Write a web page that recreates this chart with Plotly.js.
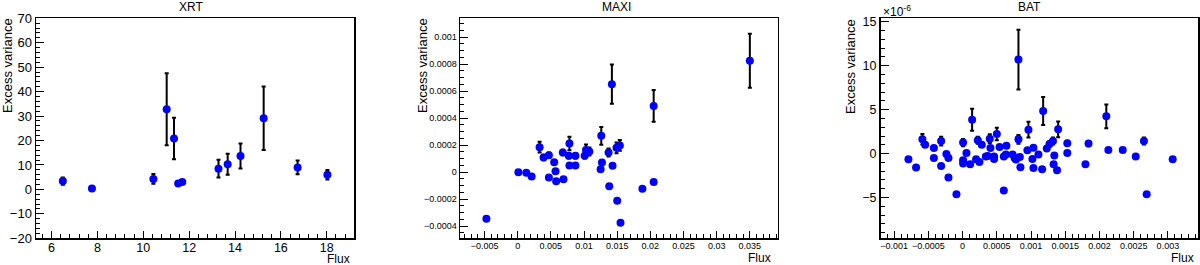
<!DOCTYPE html>
<html>
<head>
<meta charset="utf-8">
<script src="https://cdn.plot.ly/plotly-3.0.1.min.js"></script>
<style>
  html, body { margin: 0; padding: 0; background: #fff; }
  #chart { width: 1200px; height: 265px; }
</style>
</head>
<body>
<div id="chart"></div>
<script>
// XRT panel
const xrtFlux = [6.49, 7.76, 10.44, 11.02, 11.34, 11.52, 11.70, 13.28, 13.68, 14.24, 15.25, 16.73, 18.03];
const xrtVar  = [3.4, 0.4, 4.3, 32.8, 20.8, 2.4, 3.0, 8.5, 10.3, 13.7, 29.1, 9.0, 6.0];
const xrtErr  = [1.5, 0, 2.0, 14.7, 8.5, 0, 0, 3.6, 4.3, 5.1, 13.0, 2.8, 1.9];

// MAXI panel
const maxiFlux = [-0.00472, 0.0001, 0.0013, 0.0021, 0.0033, 0.0039, 0.0047, 0.0047, 0.0055, 0.0057,
                  0.0058, 0.0068, 0.0069, 0.0078, 0.0077, 0.0078, 0.0087, 0.0087, 0.0101, 0.0103,
                  0.0108, 0.0125, 0.0126, 0.0127, 0.0137, 0.0138, 0.0142, 0.0143, 0.0149, 0.0150,
                  0.0154, 0.0155, 0.0188, 0.0205, 0.0205, 0.0350];
const maxiVar  = [-0.000346, 0, -0.000005, -0.000032, 0.000185, 0.000109, 0.000126, -0.00004, 0.000074, 0.000007,
                  -0.000067, 0.000146, -0.000052, 0.000212, 0.000121, 0.00005, 0.000121, 0.00005, 0.000121, 0.000165,
                  0.000153, 0.000022, 0.000269, 0.000072, 0.000146, -0.000104, 0.000652, 0.000047, 0.00018, -0.000212,
                  0.000198, -0.000375, -0.000123, -0.000072, 0.000491, 0.000825];
const maxiErr  = [0, 0, 0, 0, 0.00004, 0.00002, 0.00002, 0, 0, 0,
                  0, 0.00002, 0, 0.00005, 0.00002, 0, 0.00002, 0, 0.00002, 0.00004,
                  0.00003, 0, 0.000065, 0, 0.00003, 0, 0.000145, 0, 0.00004, 0,
                  0.00004, 0, 0, 0, 0.000118, 0.0002];

// BAT panel (variance in units of 1e-6, as on the axis)
const batFlux = [-0.000792, -0.00068, -0.000588, -0.000548, -0.00042, -0.00042, -0.000314, -0.000314, -0.000237, -0.000207,
                 -0.000207, -0.00009, 0.000007, 0.000007, 0.000007, 0.000056, 0.00011, 0.000139, 0.000197, 0.000222,
                 0.000246, 0.00028, 0.00034, 0.000368, 0.000397, 0.000407, 0.00046, 0.00046, 0.0005, 0.00054,
                 0.000602, 0.000602, 0.000632, 0.00064, 0.00073, 0.00076, 0.00078, 0.000816, 0.000816, 0.000836,
                 0.000845, 0.000962, 0.000947, 0.00102, 0.001035, 0.001035, 0.001108, 0.001162, 0.001177, 0.00123,
                 0.00127, 0.00132, 0.00134, 0.00133, 0.00138, 0.001396, 0.00153, 0.00153, 0.001795, 0.00184,
                 0.0021, 0.00213, 0.00234, 0.00253, 0.00265, 0.00269, 0.00307];
const batVar  = [-0.65, -1.59, 1.63, 1.02, 0.64, -0.5, 1.43, -1.41, -0.04, -0.5,
                 -2.73, -4.63, 1.25, -0.76, -1.14, 0.07, -1.22, 3.86, -0.65, 1.51,
                 -0.95, 1.02, -0.34, -0.27, 1.7, 0.64, -0.34, -0.6, 2.23, 0.75,
                 -4.2, -0.34, -0.11, 0.9, -0.11, -0.5, -0.68, 10.7, 1.63, -0.38,
                 -1.55, 2.72, 0.38, -0.6, 0.68, -1.63, -0.11, -1.78, 4.85, 0.57,
                 1.1, 1.43, -0.23, -1.22, -1.9, 2.76, 1.17, 0.07, -1.22, 1.14,
                 4.24, 0.42, 0.42, -0.34, 1.43, -4.63, -0.65];
const batErr  = [0, 0, 0.6, 0, 0, 0, 0.5, 0, 0, 0,
                 0, 0, 0.4, 0, 0, 0, 0, 1.25, 0, 0.4,
                 0, 0, 0, 0, 0.5, 0, 0, 0, 0.7, 0,
                 0, 0, 0, 0, 0, 0, 0, 3.4, 0.5, 0,
                 0, 0.9, 0, 0, 0, 0, 0, 0, 1.6, 0,
                 0.3, 0.4, 0, 0, 0, 0.9, 0.3, 0, 0, 0.3,
                 1.35, 0, 0, 0, 0.4, 0, 0];

const panelTitles = ["XRT", "MAXI", "BAT"];

const FONT = "Liberation Sans, Arial, sans-serif";
const H = 265, W = 1200;
const px = (x) => x / W;
const py = (y) => (H - y) / H;

function series(x, y, err, n) {
  return {
    type: "scatter", mode: "markers",
    x: x, y: y,
    xaxis: n === 1 ? "x" : "x" + n,
    yaxis: n === 1 ? "y" : "y" + n,
    marker: { color: "#0000ff", size: 8 },
    error_y: { type: "data", array: err, visible: true, color: "#000", thickness: 2, width: 2 },
    showlegend: false, hoverinfo: "x+y",
  };
}

function xax(domain, range, dtick, minor, fs, anchor) {
  return {
    domain: domain, range: range, anchor: anchor,
    showline: true, mirror: true, linecolor: "#000", linewidth: 1.5,
    showgrid: false, zeroline: false,
    ticks: "inside", ticklen: 7, tickwidth: 1, tickcolor: "#000",
    ticklabelstandoff: -2,
    tickmode: "linear", tick0: 0, dtick: dtick,
    minor: { ticks: "inside", ticklen: 4, tickwidth: 1, tickcolor: "#000", dtick: minor, tick0: 0 },
    tickfont: { family: FONT, size: fs, color: "#000" },
  };
}

function yax(domain, range, dtick, minor, fs, anchor) {
  const a = xax(domain, range, dtick, minor, fs, anchor);
  a.ticklen = 8;
  a.ticklabelstandoff = 0;
  return a;
}

const yDom = [26.7 / H, 246.7 / H];

const layout = {
  width: W, height: H,
  margin: { l: 0, r: 0, t: 0, b: 0 },
  paper_bgcolor: "#fff", plot_bgcolor: "#fff",
  font: { family: FONT, color: "#000" },
  xaxis:  xax([px(36), px(354)], [5.32, 19.19], 2, 0.4, 12.5, "y"),
  yaxis:  yax(yDom, [-20, 70], 10, 2, 13, "x"),
  xaxis2: xax([px(460), px(777.7)], [-0.0087, 0.0392], 0.005, 0.001, 9, "y2"),
  yaxis2: yax(yDom, [-0.00049, 0.00114], 0.0002, 0.00005, 9, "x2"),
  xaxis3: xax([px(880.5), px(1198)], [-0.0012, 0.00344], 0.0005, 0.0001, 9, "y3"),
  yaxis3: yax(yDom, [-9.64, 15.4], 5, 1, 12.5, "x3"),
  annotations: [],
};
layout.xaxis.ticklabelstandoff = -3;

// titles
[[191, 0], [616, 1], [1029, 2]].forEach(([cx, i]) => {
  layout.annotations.push({ xref: "paper", yref: "paper", x: px(cx), y: py(7),
    xanchor: "center", yanchor: "middle", showarrow: false,
    text: panelTitles[i], font: { family: FONT, size: 12, color: "#000" } });
});
// y titles
[8, 423, 851].forEach(cx => {
  layout.annotations.push({ xref: "paper", yref: "paper", x: px(cx), y: py(66),
    xanchor: "center", yanchor: "middle", showarrow: false, textangle: -90,
    text: "Excess variance", font: { family: FONT, size: 13, color: "#000" } });
});
// x titles
[[352, 259], [773, 257.5], [1196, 257.5]].forEach(([rx, cy]) => {
  layout.annotations.push({ xref: "paper", yref: "paper", x: px(rx), y: py(cy),
    xanchor: "right", yanchor: "middle", showarrow: false,
    text: "Flux", font: { family: FONT, size: 12, color: "#000" } });
});
// exponent label on BAT
layout.annotations.push({ xref: "paper", yref: "paper", x: px(881), y: py(11),
  xanchor: "left", yanchor: "middle", showarrow: false,
  text: "×10<sup>-6</sup>", font: { family: FONT, size: 12, color: "#000" } });

Plotly.newPlot("chart", [
  series(xrtFlux, xrtVar, xrtErr, 1),
  series(maxiFlux, maxiVar, maxiErr, 2),
  series(batFlux, batVar, batErr, 3),
], layout, { staticPlot: true, displayModeBar: false });
</script>
</body>
</html>
